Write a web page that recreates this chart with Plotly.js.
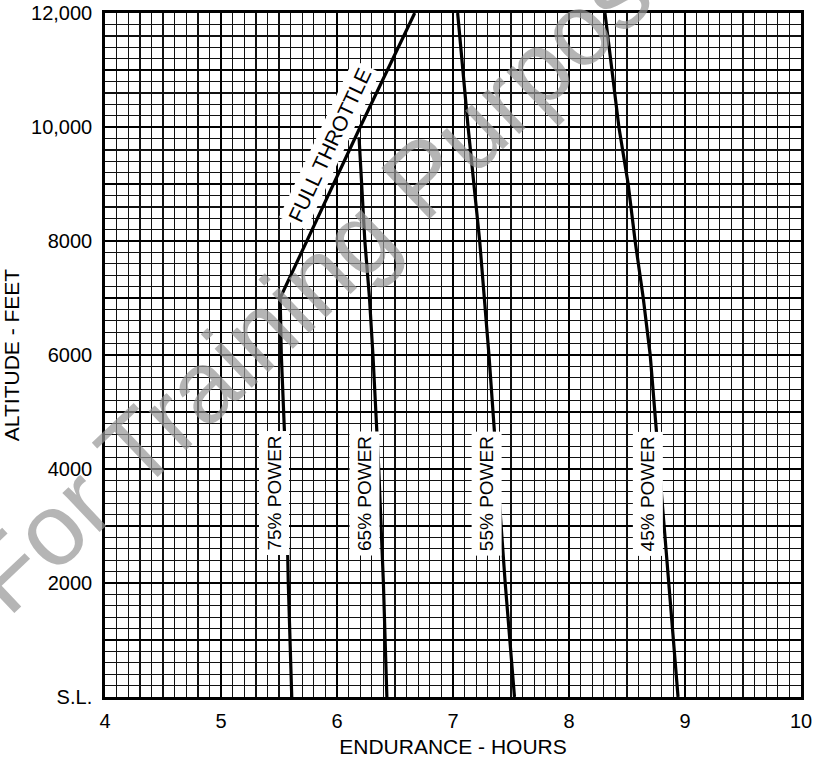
<!DOCTYPE html>
<html>
<head>
<meta charset="utf-8">
<script src="https://cdn.plot.ly/plotly-3.0.1.min.js"></script>
<style>html,body{margin:0;padding:0;background:#fff;}#chart{width:814px;height:758px;}</style>
</head>
<body>
<div id="chart"></div>
<script>
// ---- data ----
const fullThrottleHours = [5.51, 6.20, 6.67];
const fullThrottleAlt   = [7000, 10000, 12000];

const p75Hours = [5.51, 5.52, 5.56, 5.58, 5.61];
const p75Alt   = [7000, 6000, 4000, 2000, 0];

const p65Hours = [6.19, 6.24, 6.28, 6.31, 6.36, 6.40, 6.43];
const p65Alt   = [9820, 8000, 7000, 6000, 4000, 2000, 0];

const p55Hours = [7.04, 7.13, 7.23, 7.31, 7.38, 7.45, 7.53];
const p55Alt   = [12000, 10000, 8000, 6000, 4000, 2000, 0];

const p45Hours = [8.31, 8.43, 8.51, 8.57, 8.64, 8.70, 8.78, 8.86, 8.94];
const p45Alt   = [12000, 10000, 9000, 8000, 7000, 6000, 4000, 2000, 0];

const xTickVals = [4, 5, 6, 7, 8, 9, 10];
const yTickVals = [0, 1000, 2000, 3000, 4000, 5000, 6000, 7000, 8000, 9000, 10000, 11000, 12000];
const yTickText = ['S.L.', '', '2000', '', '4000', '', '6000', '', '8000', '', '10,000', '', '12,000'];

const curveLabels = ['FULL THROTTLE', '75% POWER', '65% POWER', '55% POWER', '45% POWER'];
const watermarkText = 'For Training Purposes';

// ---- chart ----
const FONT = 'Liberation Sans, Arial, Helvetica, sans-serif';
const lineStyle = {color: '#000', width: 3.2};
function curve(x, y) {
  return {x: x, y: y, type: 'scatter', mode: 'lines', line: lineStyle, hoverinfo: 'skip', showlegend: false};
}
const traces = [
  curve(fullThrottleHours, fullThrottleAlt),
  curve(p75Hours, p75Alt),
  curve(p65Hours, p65Alt),
  curve(p55Hours, p55Alt),
  curve(p45Hours, p45Alt)
];

function vLabel(text, x, y) {
  return {text: text, x: x, y: y, xref: 'x', yref: 'y', showarrow: false, textangle: -90,
    bgcolor: '#fff', borderpad: 4, font: {family: FONT, size: 19, color: '#000'}};
}

const layout = {
  width: 814, height: 758,
  margin: {l: 105, r: 13, t: 13, b: 61},
  paper_bgcolor: '#fff', plot_bgcolor: '#fff',
  font: {family: FONT, size: 20, color: '#000'},
  showlegend: false,
  xaxis: {
    range: [4, 10], tickvals: xTickVals, ticks: '', ticklabelstandoff: 4,
    showgrid: true, gridcolor: '#000', gridwidth: 2.5,
    minor: {dtick: 0.1, showgrid: true, gridcolor: '#111', gridwidth: 1.4},
    showline: true, linecolor: '#000', linewidth: 2.8, mirror: true,
    zeroline: false, fixedrange: true,
    tickfont: {family: FONT, size: 20, color: '#000'},
    title: {text: 'ENDURANCE - HOURS', standoff: 9, font: {family: FONT, size: 21, color: '#000'}}
  },
  yaxis: {
    range: [0, 12000], tickvals: yTickVals, ticktext: yTickText, ticks: '', ticklabelstandoff: 6,
    showgrid: true, gridcolor: '#000', gridwidth: 2.5,
    minor: {dtick: 200, showgrid: true, gridcolor: '#111', gridwidth: 1.4},
    showline: true, linecolor: '#000', linewidth: 2.8, mirror: true,
    zeroline: false, fixedrange: true,
    tickfont: {family: FONT, size: 20, color: '#000'},
    title: {text: 'ALTITUDE - FEET', standoff: 7, font: {family: FONT, size: 21, color: '#000'}}
  },
  annotations: [
    {text: watermarkText, x: 0.349, y: 0.657, xref: 'paper', yref: 'paper', showarrow: false,
      textangle: -43.5, font: {family: FONT, size: 102, color: 'rgba(150,150,150,0.7)'}},
    {text: curveLabels[0], x: 5.932, y: 9683, xref: 'x', yref: 'y', showarrow: false, textangle: -64.8,
      bgcolor: '#fff', borderpad: 3, font: {family: FONT, size: 21, color: '#000'}},
    vLabel(curveLabels[1], 5.457, 3570),
    vLabel(curveLabels[2], 6.237, 3570),
    vLabel(curveLabels[3], 7.29, 3570),
    vLabel(curveLabels[4], 8.68, 3570)
  ]
};

Plotly.newPlot('chart', traces, layout, {staticPlot: true, displayModeBar: false});
</script>
</body>
</html>
